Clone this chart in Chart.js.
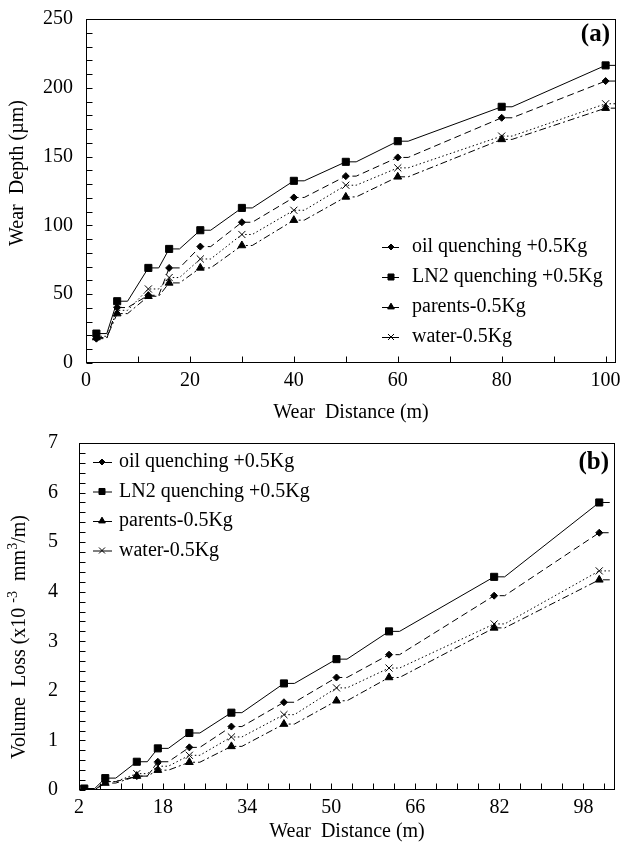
<!DOCTYPE html>
<html><head><meta charset="utf-8">
<script src="https://cdn.jsdelivr.net/npm/chart.js@4.4.1/dist/chart.umd.min.js"></script>
<style>
html,body{margin:0;padding:0;background:#fff;}
#wrap{position:relative;width:622px;height:847px;overflow:hidden;background:#fff;}
#c1{position:absolute;left:0;top:0;}
#c2{position:absolute;left:0;top:425px;}
</style></head>
<body><div id="wrap"><canvas id="c1" width="622" height="425"></canvas><canvas id="c2" width="622" height="422"></canvas></div>
<script>
// ---------- DATA ----------
const seriesNames = ['oil quenching +0.5Kg', 'LN2 quenching +0.5Kg', 'parents-0.5Kg', 'water-0.5Kg'];

// (a) Wear depth
const distanceA = [2, 6, 12, 16, 22, 30, 40, 50, 60, 80, 100];
const oilA     = [17.7, 40.3, 49.2, 69.1, 84.6, 102.3, 120.3, 135.8, 149.4, 178.2, 204.9];
const ln2A     = [21.4, 44.9, 69.1, 82.9, 96.5, 112.7, 132.4, 146.2, 161.2, 186.2, 216.3];
const parentsA = [18.5, 35.9, 48.5, 58.2, 69.1, 85.4, 103.8, 120.7, 135.3, 162.5, 185.2];
const waterA   = [19.4, 38.3, 53.8, 62.1, 75.6, 93.4, 111.0, 129.2, 141.8, 164.9, 188.4];
const xLabelsA = [0, 20, 40, 60, 80, 100];
const yLabelsA = [0, 50, 100, 150, 200, 250];

// (b) Volume loss
const distanceB = [3, 7, 13, 17, 23, 31, 41, 51, 61, 81, 101];
const oilB     = [0, 0.17, 0.28, 0.57, 0.86, 1.28, 1.77, 2.27, 2.73, 3.92, 5.19];
const ln2B     = [0.03, 0.24, 0.57, 0.84, 1.15, 1.56, 2.15, 2.64, 3.20, 4.30, 5.80];
const parentsB = [0, 0.14, 0.28, 0.40, 0.56, 0.88, 1.33, 1.80, 2.27, 3.27, 4.24];
const waterB   = [0, 0.17, 0.33, 0.48, 0.70, 1.07, 1.52, 2.06, 2.46, 3.35, 4.42];
const xLabelsB = [2, 18, 34, 50, 66, 82, 98];
const yLabelsB = [0, 1, 2, 3, 4, 5, 6, 7];

const xTitle = 'Wear  Distance (m)';
const yTitleA = [{t: 'Wear  Depth (\u00B5m)'}];
const yTitleB = [{t: 'Volume  Loss (x10 '}, {t: '-3', sup: true}, {t: '  mm'}, {t: '3', sup: true}, {t: '/m)'}];

// ---------- STYLE ----------
const FONT = "'Liberation Serif', 'Times New Roman', serif";
const TAIL = 2; // short horizontal run drawn after every marker
const TICK = 6;
const styles = {
  oil:     {pointStyle: 'rectRot',  radius: 3.5, dash: [7, 4]},
  ln2:     {pointStyle: 'rect',     radius: 5,   dash: []},
  parents: {pointStyle: 'triangle', radius: 4.5, dash: [7, 3, 2, 3]},
  water:   {pointStyle: 'crossRot', radius: 5,   dash: [1.5, 2.5]}
};

const panels = {};

function range(a, b, step) {
  const out = [];
  const n = Math.round((b - a) / step);
  for (let k = 0; k <= n; k++) out.push(Math.round((a + k * step) * 1000) / 1000);
  return out;
}

function withTails(xs, ys) {
  const out = [];
  xs.forEach((x, i) => { out.push({x: x, y: ys[i]}); out.push({x: x + TAIL, y: ys[i]}); });
  return out;
}

function makeDataset(label, key, xs, ys) {
  const st = styles[key];
  return {
    label: label,
    data: withTails(xs, ys),
    borderColor: '#000',
    backgroundColor: '#000',
    borderWidth: 1,
    borderDash: st.dash,
    pointStyle: st.pointStyle,
    pointRadius: (c) => (c.dataIndex % 2 === 0 ? st.radius : 0),
    pointHoverRadius: 0,
    pointBorderWidth: 1,
    pointBorderColor: '#000',
    pointBackgroundColor: '#000',
    tension: 0,
    fill: false,
    _key: key
  };
}

const decorPlugin = {
  id: 'panelDecor',
  afterDraw(chart) {
    const cfg = panels[chart.canvas.id];
    if (!cfg) return;
    const ctx = chart.ctx;
    const a = chart.chartArea;
    const L = Math.round(a.left) + 0.5, R = Math.round(a.right) - 0.5;
    const T = Math.round(a.top) + 0.5, B = Math.round(a.bottom) - 0.5;
    ctx.save();
    ctx.strokeStyle = '#000';
    ctx.fillStyle = '#000';
    ctx.lineWidth = 1;
    ctx.setLineDash([]);
    // frame
    ctx.strokeRect(L, T, R - L, B - T);
    // inward tick marks
    const xs = chart.scales.x, ys = chart.scales.y;
    ctx.beginPath();
    for (let i = 0; i < cfg.xTicks.length; i++) {
      const px = Math.round(xs.getPixelForValue(cfg.xTicks[i])) + 0.5;
      ctx.moveTo(px, B);
      ctx.lineTo(px, B - TICK);
    }
    for (let i = 0; i < cfg.yTicks.length; i++) {
      const py = Math.round(ys.getPixelForValue(cfg.yTicks[i])) + 0.5;
      ctx.moveTo(L, py);
      ctx.lineTo(L + TICK, py);
    }
    ctx.stroke();
    // y axis title (with superscripts)
    ctx.save();
    ctx.translate(cfg.ytX, cfg.ytY);
    ctx.rotate(-Math.PI / 2);
    ctx.textBaseline = 'middle';
    ctx.textAlign = 'left';
    const big = '20px ' + FONT, small = '14px ' + FONT;
    let total = 0;
    cfg.yTitle.forEach(s => { ctx.font = s.sup ? small : big; total += ctx.measureText(s.t).width; });
    let cx = -total / 2;
    cfg.yTitle.forEach(s => {
      ctx.font = s.sup ? small : big;
      ctx.fillText(s.t, cx, s.sup ? -7 : 0);
      cx += ctx.measureText(s.t).width;
    });
    ctx.restore();
    // panel tag
    ctx.font = 'bold 25px ' + FONT;
    ctx.textAlign = 'right';
    ctx.textBaseline = 'middle';
    ctx.fillText(cfg.tag, cfg.tagX, cfg.tagY);
    // legend
    ctx.font = '20px ' + FONT;
    ctx.textAlign = 'left';
    ctx.textBaseline = 'middle';
    cfg.order.forEach((key, i) => {
      const ds = chart.data.datasets.find(d => d._key === key);
      const st = styles[key];
      const y = cfg.ly + i * cfg.dy;
      ctx.beginPath();
      ctx.moveTo(cfg.lx0, y + 0.5);
      ctx.lineTo(cfg.lx1, y + 0.5);
      ctx.stroke();
      Chart.helpers.drawPoint(ctx, {pointStyle: st.pointStyle, rotation: 0, radius: st.radius * 0.85, borderWidth: 1}, cfg.mx, y);
      ctx.fill();
      ctx.fillText(ds.label, cfg.tx, y);
    });
    ctx.restore();
  }
};

function makeChart(canvas, cfg) {
  panels[canvas.id] = cfg;
  const datasets = [
    makeDataset(seriesNames[1], 'ln2', cfg.xs, cfg.ln2),
    makeDataset(seriesNames[0], 'oil', cfg.xs, cfg.oil),
    makeDataset(seriesNames[3], 'water', cfg.xs, cfg.water),
    makeDataset(seriesNames[2], 'parents', cfg.xs, cfg.parents)
  ];
  const tickFont = {family: FONT, size: 20};
  return new Chart(canvas, {
    type: 'line',
    data: {datasets: datasets},
    plugins: [decorPlugin],
    options: {
      responsive: false,
      animation: false,
      devicePixelRatio: 1,
      layout: {padding: {left: 0, right: cfg.padRight, top: cfg.padTop, bottom: 0}},
      plugins: {
        legend: {display: false},
        tooltip: {enabled: false}
      },
      elements: {line: {borderCapStyle: 'butt'}},
      scales: {
        x: {
          type: 'linear',
          min: cfg.xMin, max: cfg.xMax,
          afterBuildTicks: (s) => { s.ticks = cfg.xTicks.map(v => ({value: v})); },
          afterFit: (s) => { s.height = cfg.xAxisH; s.paddingLeft = 0; s.paddingRight = 0; },
          ticks: {
            autoSkip: false, maxRotation: 0, color: '#000', font: tickFont, padding: cfg.xLabelPad,
            callback: (v) => (cfg.xLabels.includes(v) ? String(v) : '')
          },
          grid: {display: false, drawOnChartArea: false, drawTicks: false},
          border: {display: false},
          title: {display: true, text: xTitle, color: '#000', font: tickFont, padding: {top: 0, bottom: cfg.xTitlePad}}
        },
        y: {
          type: 'linear',
          min: cfg.yMin, max: cfg.yMax,
          afterBuildTicks: (s) => { s.ticks = cfg.yTicks.map(v => ({value: v})); },
          afterFit: (s) => { s.width = cfg.left; s.paddingTop = 0; s.paddingBottom = 0; },
          ticks: {
            autoSkip: false, color: '#000', font: tickFont, padding: cfg.yLabelPad,
            callback: (v) => (cfg.yLabels.includes(v) ? String(v) : '')
          },
          grid: {display: false, drawOnChartArea: false, drawTicks: false},
          border: {display: false},
          title: {display: false}
        }
      }
    }
  });
}

makeChart(document.getElementById('c1'), {
  xs: distanceA, oil: oilA, ln2: ln2A, parents: parentsA, water: waterA,
  xMin: 0, xMax: 102, yMin: 0, yMax: 250,
  xTicks: range(0, 100, 10), xLabels: xLabelsA,
  yTicks: range(0, 250, 10), yLabels: yLabelsA,
  yTitle: yTitleA,
  left: 86, padRight: 5, padTop: 19, xAxisH: 62, xTitlePad: 0, xLabelPad: 6, yLabelPad: 13,
  ytX: 18, ytY: 173, tag: '(a)', tagX: 610, tagY: 35, order: ['oil', 'ln2', 'parents', 'water'],
  lx0: 382, lx1: 399, mx: 391, tx: 412, ly: 247, dy: 30
});

makeChart(document.getElementById('c2'), {
  xs: distanceB, oil: oilB, ln2: ln2B, parents: parentsB, water: waterB,
  xMin: 2, xMax: 104, yMin: 0, yMax: 7,
  xTicks: range(2, 102, 4), xLabels: xLabelsB,
  yTicks: range(0, 7, 0.2), yLabels: yLabelsB,
  yTitle: yTitleB,
  left: 79, padRight: 7, padTop: 18, xAxisH: 57, xTitlePad: 3, xLabelPad: 6, yLabelPad: 21,
  ytX: 20, ytY: 212, tag: '(b)', tagX: 609, tagY: 38, order: ['oil', 'ln2', 'parents', 'water'],
  lx0: 93, lx1: 112, mx: 102, tx: 119, ly: 37, dy: 29.5
});
</script></body></html>
